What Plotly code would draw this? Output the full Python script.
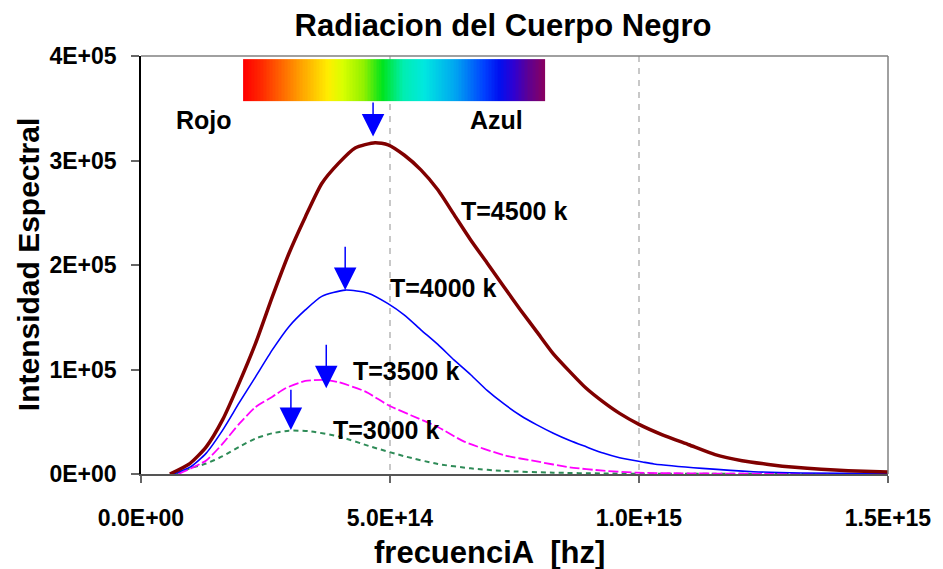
import plotly.graph_objects as go
import numpy as np

# ---------------- data ----------------
freq_4500 = [0.58e14, 0.98e14, 1.31e14, 1.64e14, 1.97e14, 2.30e14, 2.64e14, 2.97e14, 3.30e14,
             3.63e14, 3.96e14, 4.30e14, 4.70e14, 4.96e14, 5.29e14, 5.62e14, 5.96e14, 6.29e14,
             6.62e14, 6.95e14, 7.29e14, 7.62e14, 7.95e14, 8.28e14, 8.61e14, 8.94e14, 9.28e14,
             9.61e14, 10.0e14, 10.47e14, 11.0e14, 11.53e14, 12.07e14, 12.6e14, 13.13e14,
             13.66e14, 14.2e14, 15.0e14]
int_4500 = [0, 10e3, 26e3, 52e3, 87e3, 125e3, 170e3, 211e3, 246e3, 278e3, 297e3, 312e3, 317e3,
            315e3, 305e3, 291e3, 272e3, 248e3, 224e3, 202e3, 179e3, 157e3, 136e3, 115e3, 98e3,
            82e3, 69e3, 58e3, 47.5e3, 37.5e3, 28e3, 18.5e3, 12.7e3, 9.2e3, 6.4e3, 4.5e3, 3.2e3, 1.9e3]

freq_4000 = [0.65e14, 1.0e14, 1.31e14, 1.64e14, 1.97e14, 2.30e14, 2.64e14, 2.97e14, 3.30e14,
             3.63e14, 4.10e14, 4.56e14, 4.96e14, 5.29e14, 5.62e14, 5.96e14, 6.29e14, 6.62e14,
             6.95e14, 7.29e14, 7.62e14, 7.95e14, 8.28e14, 8.61e14, 8.94e14, 9.28e14, 9.61e14,
             10.07e14, 10.3e14, 11.27e14, 12.3e14, 13.26e14, 15.0e14]
int_4000 = [0, 7e3, 20e3, 42e3, 68e3, 93e3, 119e3, 141e3, 157e3, 170e3, 176e3, 173e3, 163e3,
            152e3, 138e3, 124e3, 109e3, 95e3, 80e3, 67e3, 56e3, 47e3, 39e3, 32e3, 26e3, 20e3,
            15.5e3, 11.5e3, 9.6e3, 5.4e3, 2.2e3, 1.0e3, 0.5e3]

freq_3500 = [0.75e14, 1.31e14, 1.64e14, 1.97e14, 2.30e14, 2.64e14, 2.90e14, 3.30e14, 3.70e14,
             3.96e14, 4.50e14, 4.96e14, 5.43e14, 5.96e14, 6.49e14, 7.29e14, 7.95e14, 8.61e14,
             9.28e14, 9.94e14, 11.0e14, 12.5e14, 15.0e14]
int_3500 = [0, 13e3, 29e3, 48e3, 64e3, 74e3, 82e3, 89e3, 90e3, 88e3, 79e3, 66e3, 56e3, 45e3,
            31e3, 18e3, 12e3, 6.4e3, 3.2e3, 1.3e3, 0.6e3, 0.2e3, 0]

freq_3000 = [0.71e14, 0.98e14, 1.31e14, 1.64e14, 1.97e14, 2.30e14, 2.64e14, 2.97e14, 3.37e14,
             3.96e14, 4.63e14, 5.29e14, 5.96e14, 6.62e14, 7.29e14, 8.28e14, 9.28e14, 11.0e14,
             15.0e14]
int_3000 = [0, 5.4e3, 10e3, 17e3, 26e3, 34e3, 39e3, 41.5e3, 41e3, 36e3, 26e3, 17e3, 9.6e3,
            5.4e3, 2.9e3, 1.3e3, 0.5e3, 0.2e3, 0]

curve_labels = ["T=4500 k", "T=4000 k", "T=3500 k", "T=3000 k"]

x_tickvals = [0, 5e14, 1e15, 1.5e15]
x_ticktext = ["0.0E+00", "5.0E+14", "1.0E+15", "1.5E+15"]
y_tickvals = [0, 1e5, 2e5, 3e5, 4e5]
y_ticktext = ["0E+00", "1E+05", "2E+05", "3E+05", "4E+05"]

# peak-marker arrows (tip frequency, tip intensity, tail intensity)
arrow_freq = [4.66e14, 4.10e14, 3.72e14, 3.01e14]
arrow_tip = [323e3, 176e3, 82e3, 42e3]
arrow_tail = [357e3, 219e3, 125e3, 82e3]

# label anchors
label_freq = [7.49e14, 6.06e14, 5.32e14, 4.92e14]
label_int = [252e3, 178e3, 99e3, 42e3]

# spectrum bar extent and colours
spec_x = [2.05e14, 8.11e14]
spec_y = [357e3, 397e3]
spec_colors = [[0.0, '#ff0000'], [0.06, '#ff2a00'], [0.13, '#ff6a00'], [0.20, '#ffaa00'],
               [0.28, '#ffee00'], [0.33, '#d8ff00'], [0.40, '#90f000'], [0.46, '#00e41c'],
               [0.53, '#00eeb0'], [0.60, '#00e8e0'], [0.70, '#00a8f0'], [0.80, '#0040ff'],
               [0.85, '#0010f0'], [0.90, '#3000d0'], [0.95, '#600090'], [1.0, '#880060']]

FONT = "Liberation Sans, Arial, sans-serif"

fig = go.Figure()

# spectrum bar
N = 200
edges = np.linspace(spec_x[0], spec_x[1], N + 1)
fig.add_trace(go.Heatmap(x=edges, y=spec_y, z=[list(np.linspace(0, 1, N))],
                         colorscale=spec_colors, showscale=False, hoverinfo='skip',
                         zmin=0, zmax=1))

fig.add_trace(go.Scatter(x=freq_3000, y=int_3000, mode='lines', name=curve_labels[3],
                         line=dict(color='#2e8b57', width=2, dash='5px,4px',
                                   shape='spline', smoothing=0.6)))
fig.add_trace(go.Scatter(x=freq_3500, y=int_3500, mode='lines', name=curve_labels[2],
                         line=dict(color='#ff00ff', width=1.8, dash='10px,3px',
                                   shape='spline', smoothing=0.6)))
fig.add_trace(go.Scatter(x=freq_4000, y=int_4000, mode='lines', name=curve_labels[1],
                         line=dict(color='#0000ff', width=1.6, shape='spline', smoothing=0.6)))
fig.add_trace(go.Scatter(x=freq_4500, y=int_4500, mode='lines', name=curve_labels[0],
                         line=dict(color='#800000', width=3.5, shape='spline', smoothing=0.6)))

annotations = []
for xf, yt, ya in zip(arrow_freq, arrow_tip, arrow_tail):
    annotations.append(dict(x=xf, y=yt, ax=xf, ay=ya, xref='x', yref='y', axref='x', ayref='y',
                            showarrow=True, arrowhead=2, arrowsize=3.0, arrowwidth=1.5,
                            arrowcolor='#0000ff', text=''))
for txt, xf, yi in zip(curve_labels, label_freq, label_int):
    annotations.append(dict(x=xf, y=yi, xref='x', yref='y', text=txt, showarrow=False,
                            font=dict(family=FONT, size=25, color='black', weight='bold'),
                            xanchor='center', yanchor='middle'))
annotations.append(dict(x=1.265e14, y=339e3, xref='x', yref='y', text='Rojo', showarrow=False,
                        font=dict(family=FONT, size=25, color='black', weight='bold')))
annotations.append(dict(x=7.13e14, y=339e3, xref='x', yref='y', text='Azul', showarrow=False,
                        font=dict(family=FONT, size=25, color='black', weight='bold')))
# axis titles
annotations.append(dict(x=-0.151, y=0.5, xref='paper', yref='paper', text='Intensidad Espectral',
                        textangle=-90, showarrow=False, xanchor='center', yanchor='middle',
                        font=dict(family=FONT, size=30, color='black', weight='bold')))
annotations.append(dict(x=0.466, y=-0.187, xref='paper', yref='paper', text='frecuenciA  [hz]',
                        showarrow=False, xanchor='center', yanchor='middle',
                        font=dict(family=FONT, size=31, color='black', weight='bold')))

shapes = [
    dict(type='line', xref='paper', yref='paper', x0=0, x1=1, y0=1, y1=1,
         line=dict(color='#808080', width=1.5)),
    dict(type='line', xref='paper', yref='paper', x0=1, x1=1, y0=0, y1=1,
         line=dict(color='#808080', width=1.5)),
]

W, H = 943, 569
fig.update_layout(
    width=W, height=H,
    margin=dict(l=141, r=46, t=56, b=95),
    paper_bgcolor='white', plot_bgcolor='white',
    showlegend=False,
    title=dict(text='Radiacion del Cuerpo Negro', x=503 / W, xref='container',
               xanchor='center', y=1 - 25 / H, yref='container', yanchor='middle',
               font=dict(family=FONT, size=31, color='black', weight='bold')),
    annotations=annotations,
    shapes=shapes,
    xaxis=dict(range=[0, 1.5e15], tickvals=x_tickvals, ticktext=x_ticktext,
               showgrid=True, gridcolor='#c8c8c8', griddash='6px,6px', gridwidth=1.5,
               zeroline=False, showline=True, linecolor='#555555', linewidth=1.5,
               ticks='outside', ticklen=7, tickcolor='#666666', tickwidth=1.5,
               tickfont=dict(family=FONT, size=23, color='black', weight='bold'),
               ticklabelstandoff=16),
    yaxis=dict(range=[0, 4e5], tickvals=y_tickvals, ticktext=y_ticktext,
               showgrid=False, zeroline=False, showline=True, linecolor='black', linewidth=1.5,
               ticks='outside', ticklen=8, tickcolor='#666666', tickwidth=1.5,
               tickfont=dict(family=FONT, size=23, color='black', weight='bold'),
               ticklabelstandoff=10),
)

fig.write_html("out.html", config={'displayModeBar': False},
               post_script="document.body.style.margin='0';document.body.style.overflow='hidden';")
